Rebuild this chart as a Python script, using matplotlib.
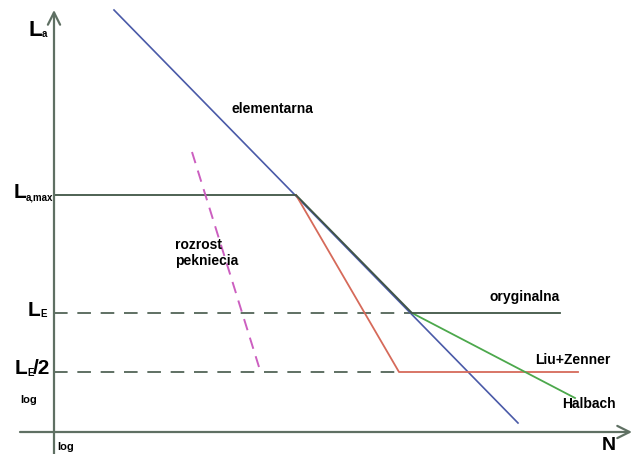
import matplotlib
matplotlib.use("Agg")
import matplotlib.pyplot as plt

plt.rcParams["font.family"] = ["Liberation Sans", "DejaVu Sans"]
plt.rcParams["font.weight"] = "bold"

# schematic Woehler diagram, coordinates in drawing units (y grows downward)
axis_x = 54
axis_y = 432

# load levels: La,max, LE, LE/2
level_y = [195, 313, 372]

# elementary line
elem_x = [114, 518]
elem_y = [10, 423]

# original: horizontal to knee, down the slope, then fatigue limit
orig_x = [54, 296, 412, 560]
orig_y = [195, 195, 313, 313]

# Liu+Zenner: steeper branch from knee, then LE/2
liu_x = [296, 399, 578]
liu_y = [195, 372, 372]

# Haibach: flatter slope below LE
haib_x = [412, 575]
haib_y = [313, 398]

# crack growth line
crack_x = [192, 259]
crack_y = [152, 367]

axis_col = "#5f7063"
dark_col = "#405545"

fig = plt.figure(figsize=(6.33, 4.54), dpi=100)
ax = fig.add_axes([0, 0, 1, 1])
ax.set_xlim(0, 633)
ax.set_ylim(454, 0)
ax.axis("off")

# axes with open arrow heads
ax.annotate("", xy=(axis_x, 10), xytext=(axis_x, 454),
            arrowprops=dict(arrowstyle="->", color=axis_col, lw=1.6,
                            mutation_scale=22, shrinkA=0, shrinkB=0))
ax.annotate("", xy=(632, axis_y), xytext=(20, axis_y),
            arrowprops=dict(arrowstyle="->", color=axis_col, lw=1.6,
                            mutation_scale=22, shrinkA=0, shrinkB=0))

# dashed helper lines for LE and LE/2
ax.plot([axis_x, orig_x[2]], [level_y[1]] * 2, color=axis_col, lw=1.4,
        dashes=(7, 5))
ax.plot([axis_x, liu_x[1]], [level_y[2]] * 2, color=axis_col, lw=1.4,
        dashes=(7, 5))

ax.plot(elem_x, elem_y, color="#4a5aa8", lw=1.2)
ax.plot(liu_x, liu_y, color="#d66a5a", lw=1.3)
ax.plot(haib_x, haib_y, color="#4ca84c", lw=1.3)
ax.plot(orig_x, orig_y, color=dark_col, lw=1.3)
ax.plot(crack_x, crack_y, color="#cc5fc0", lw=1.4, dashes=(6, 4))

# y-axis level labels, subscripts as separate small text
fs_main = 15
ax.text(29, 30, "L", fontsize=16, va="center", ha="left")
ax.text(42, 34, "a", fontsize=7, va="center", ha="left")

ax.text(14, 193, "L", fontsize=fs_main, va="center", ha="left")
ax.text(26, 197, "a,max", fontsize=7, va="center", ha="left")

ax.text(28, 310, "L", fontsize=fs_main, va="center", ha="left")
ax.text(40, 314, "E", fontsize=7, va="center", ha="left")

ax.text(15, 369, "L", fontsize=fs_main, va="center", ha="left")
ax.text(27, 373, "E", fontsize=7, va="center", ha="left")
ax.text(33, 369, "/2", fontsize=fs_main, va="center", ha="left")

ax.text(20, 400, "log", fontsize=8, va="center", ha="left")
ax.text(57, 447, "log", fontsize=8, va="center", ha="left")
ax.text(602, 445, "N", fontsize=14, va="center", ha="left")

ax.text(231, 109, "elementarna", fontsize=10, va="center", ha="left")
ax.text(175, 253, "rozrost\npekniecia", fontsize=10, va="center",
        ha="left", linespacing=1.15)
ax.text(490, 297, "oryginalna", fontsize=10, va="center", ha="left")
ax.text(535, 360, "Liu+Zenner", fontsize=10, va="center", ha="left")
ax.text(562, 404, "Halbach", fontsize=10, va="center", ha="left")

fig.savefig("out.png", dpi=100)
